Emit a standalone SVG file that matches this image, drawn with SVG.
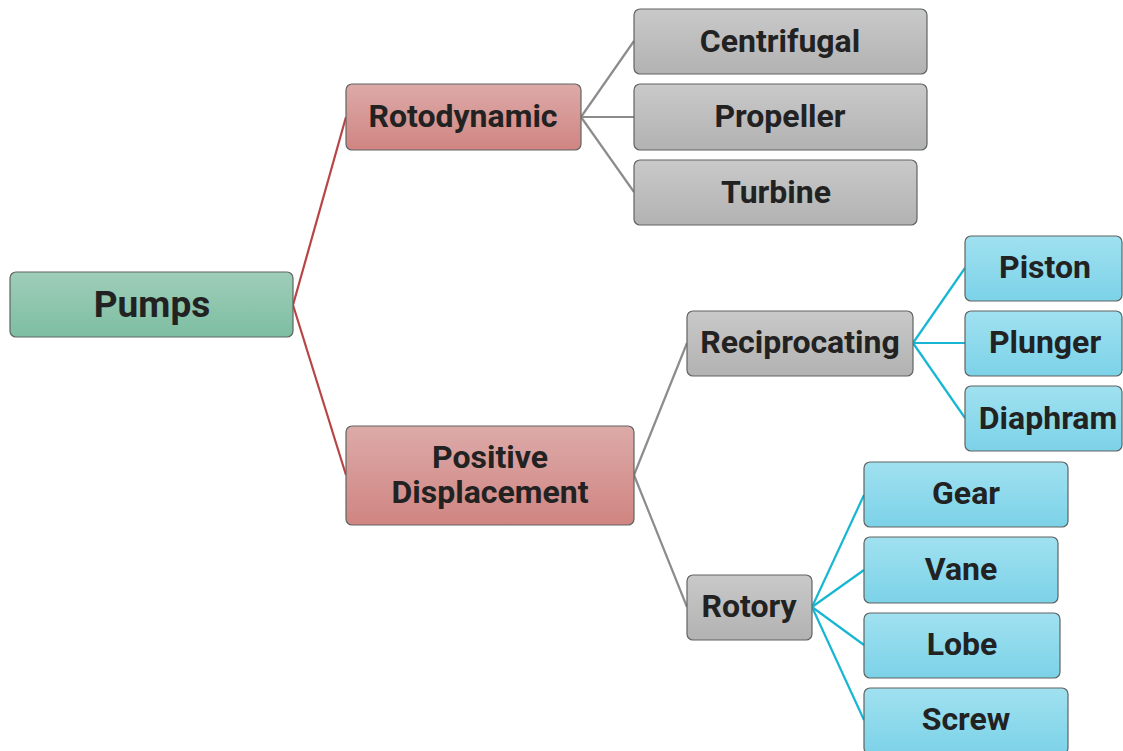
<svg xmlns="http://www.w3.org/2000/svg" width="1123" height="751" viewBox="0 0 1123 751">
<defs>
<linearGradient id="gGreen" x1="0" y1="0" x2="0" y2="1"><stop offset="0" stop-color="#9fcdb9"/><stop offset="1" stop-color="#7dbea2"/></linearGradient>
<linearGradient id="gRed" x1="0" y1="0" x2="0" y2="1"><stop offset="0" stop-color="#dcaaa8"/><stop offset="1" stop-color="#d08582"/></linearGradient>
<linearGradient id="gGray" x1="0" y1="0" x2="0" y2="1"><stop offset="0" stop-color="#c9c9c9"/><stop offset="1" stop-color="#b2b2b2"/></linearGradient>
<linearGradient id="gBlue" x1="0" y1="0" x2="0" y2="1"><stop offset="0" stop-color="#a0e1f0"/><stop offset="1" stop-color="#7cd2e8"/></linearGradient>
</defs>
<style>
rect{stroke:#5e6462;stroke-width:1.2}
.g{fill:url(#gGreen)}.r{fill:url(#gRed)}.y{fill:url(#gGray)}.b{fill:url(#gBlue)}
text{font-family:Roboto,"Liberation Sans",sans-serif;font-weight:bold;fill:#222;text-anchor:middle;font-size:32px}
.big{font-size:37px}
.c line{stroke-width:2.2;fill:none}
.cr{stroke:#b84545}.cg{stroke:#8c8c8c}.cb{stroke:#17b6d2}
</style>
<g class="c" id="connectors">
<line class="cr" x1="293" y1="305" x2="346" y2="117"/>
<line class="cr" x1="293" y1="305" x2="346" y2="475"/>
<line class="cg" x1="581" y1="117" x2="634" y2="41"/>
<line class="cg" x1="581" y1="117" x2="634" y2="117"/>
<line class="cg" x1="581" y1="117" x2="634" y2="192"/>
<line class="cg" x1="634" y1="475" x2="687" y2="343"/>
<line class="cg" x1="634" y1="475" x2="687" y2="607"/>
<line class="cb" x1="913" y1="343" x2="965" y2="268"/>
<line class="cb" x1="913" y1="343" x2="965" y2="343"/>
<line class="cb" x1="913" y1="343" x2="965" y2="418"/>
<line class="cb" x1="812" y1="607" x2="864" y2="495"/>
<line class="cb" x1="812" y1="607" x2="864" y2="570"/>
<line class="cb" x1="812" y1="607" x2="864" y2="645"/>
<line class="cb" x1="812" y1="607" x2="864" y2="720"/>
</g>
<g id="pumps"><rect class="g" x="10" y="272" width="283" height="65" rx="6"/><text class="big" x="152" y="317">Pumps</text></g>
<g id="rotodynamic"><rect class="r" x="346" y="84" width="235" height="66" rx="6"/><text x="463" y="127">Rotodynamic</text></g>
<g id="centrifugal"><rect class="y" x="634" y="9" width="293" height="65" rx="6"/><text x="780" y="52">Centrifugal</text></g>
<g id="propeller"><rect class="y" x="634" y="84" width="293" height="66" rx="6"/><text x="780" y="127">Propeller</text></g>
<g id="turbine"><rect class="y" x="634" y="160" width="283" height="65" rx="6"/><text x="776" y="203">Turbine</text></g>
<g id="positive-displacement"><rect class="r" x="346" y="426" width="288" height="99" rx="6"/><text x="490" y="468">Positive</text><text x="490" y="503">Displacement</text></g>
<g id="reciprocating"><rect class="y" x="687" y="311" width="226" height="65" rx="6"/><text x="800" y="353">Reciprocating</text></g>
<g id="piston"><rect class="b" x="965" y="236" width="157" height="65" rx="6"/><text x="1045" y="278">Piston</text></g>
<g id="plunger"><rect class="b" x="965" y="311" width="157" height="65" rx="6"/><text x="1045" y="353">Plunger</text></g>
<g id="diaphram"><rect class="b" x="965" y="386" width="157" height="65" rx="6"/><text x="1048" y="429">Diaphram</text></g>
<g id="rotory"><rect class="y" x="687" y="575" width="125" height="65" rx="6"/><text x="749" y="617">Rotory</text></g>
<g id="gear"><rect class="b" x="864" y="462" width="204" height="65" rx="6"/><text x="966" y="504">Gear</text></g>
<g id="vane"><rect class="b" x="864" y="537" width="194" height="66" rx="6"/><text x="961" y="580">Vane</text></g>
<g id="lobe"><rect class="b" x="864" y="613" width="196" height="65" rx="6"/><text x="962" y="655">Lobe</text></g>
<g id="screw"><rect class="b" x="864" y="688" width="204" height="66" rx="6"/><text x="966" y="730">Screw</text></g>
</svg>
